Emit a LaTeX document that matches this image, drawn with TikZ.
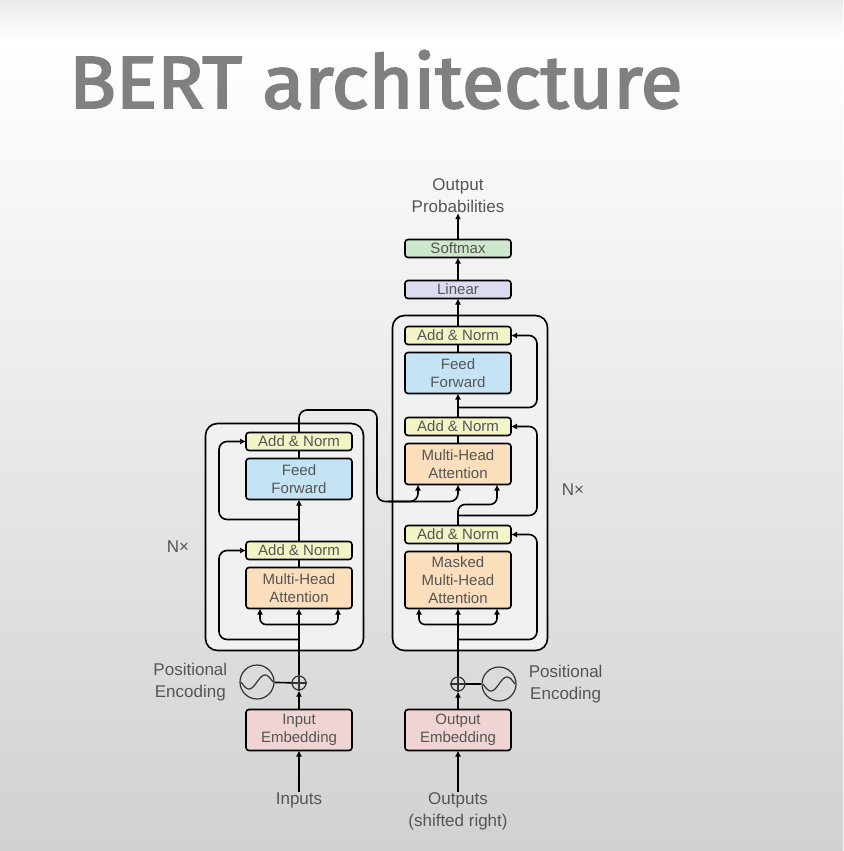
\documentclass[tikz,border=0pt]{standalone}
\usepackage{fontspec}
\setmainfont{Liberation Sans}
\newfontfamily\titlefont{Fira Sans}[FakeBold=2.6]
\usetikzlibrary{positioning}
\usetikzlibrary{calc}
\usetikzlibrary{arrows.meta}
\definecolor{mygray}{HTML}{555555}
\definecolor{titlegray}{HTML}{808080}
\definecolor{normfill}{HTML}{F4F5C6}
\definecolor{fffill}{HTML}{C4E4F6}
\definecolor{attnfill}{HTML}{FBDFBD}
\definecolor{embfill}{HTML}{F0D3D3}
\definecolor{linfill}{HTML}{DCDCF0}
\definecolor{smfill}{HTML}{CDE8CB}
\definecolor{stackfill}{HTML}{F1F1F1}
\tikzset{node distance=7pt, every text node part/.style={align=center}}
\tikzstyle{block} = [draw=black, line width=1.6pt, rounded corners=3pt, minimum width=106pt, inner sep=0pt, outer sep=0pt, text=mygray, font={\fontsize{15}{18}\selectfont}]
\tikzstyle{addnorm} = [block, fill=normfill, minimum height=18pt]
\tikzstyle{ffwd} = [block, fill=fffill, minimum height=41pt]
\tikzstyle{attn} = [block, fill=attnfill, minimum height=41pt]
\tikzstyle{embed} = [block, fill=embfill, minimum height=41pt]
\tikzstyle{stack} = [draw=black, line width=1.6pt, rounded corners=12pt, fill=stackfill]
\tikzstyle{lbl} = [inner sep=0pt, text=mygray, font={\fontsize{17}{22}\selectfont}]
\tikzstyle{plus} = [circle, draw=black!80, line width=1.2pt, minimum size=14pt, inner sep=0pt]
\tikzstyle{sine} = [circle, draw=black!80, line width=1.2pt, minimum size=34pt, inner sep=0pt]
\tikzstyle{wire} = [draw, line width=1.6pt, rounded corners=8pt]
\tikzstyle{ln} = [wire, -{Latex[length=6pt,width=6pt]}]

\begin{document}
\begin{tikzpicture}[x=1pt, y=-1pt]
  \useasboundingbox (0,0) rectangle (843,851);
  % background
  \shade[top color=black!8, bottom color=white] (0,0) rectangle (843,40);
  \shade[top color=white, middle color=black!3, bottom color=black!18] (0,40) rectangle (843,851);
  \node[anchor=base west, inner sep=0pt, text=titlegray, font={\titlefont\fontsize{74}{80}\selectfont}] (title) at (69,108) {\scalebox{1.04}[1]{BERT architecture}};

  % stacks
  \node[stack, minimum width=158pt, minimum height=227pt] (encStack) at (284.5,537) {};
  \node[stack, minimum width=155pt, minimum height=335pt] (decStack) at (470,483) {};

  % encoder
  \node[attn] (encMHA) at (299,588) {Multi-Head\\Attention};
  \node[addnorm, above=8pt of encMHA] (encAN1) {Add \& Norm};
  \node[ffwd, above=42pt of encAN1] (encFF) {Feed\\Forward};
  \node[addnorm, above=8pt of encFF] (encAN2) {Add \& Norm};
  \node[embed] (inEmb) at (299,730) {Input\\Embedding};
  \node[plus] (encPlus) at (299,683) {};
  \node[sine] (encSine) at (257,682) {};
  \node[lbl, align=left, left=12pt of encSine] (encPE) {Positional\\Encoding};
  \node[lbl] (inputs) at (299,800) {Inputs};
  \node[lbl] (encN) at (178,547) {N×};

  % decoder
  \node[attn, minimum height=57pt] (decMMHA) at (458,580) {Masked\\Multi-Head\\Attention};
  \node[addnorm, above=8pt of decMMHA] (decAN1) {Add \& Norm};
  \node[attn, above=41pt of decAN1] (decMHA) {Multi-Head\\Attention};
  \node[addnorm, above=8pt of decMHA] (decAN2) {Add \& Norm};
  \node[ffwd, above=24pt of decAN2] (decFF) {Feed\\Forward};
  \node[addnorm, above=8pt of decFF] (decAN3) {Add \& Norm};
  \node[block, fill=linfill, minimum height=18pt, above=28pt of decAN3] (linear) {Linear};
  \node[block, fill=smfill, minimum height=18pt, above=23pt of linear] (softmax) {Softmax};
  \node[lbl] (outProb) at (458,196) {Output\\Probabilities};
  \node[embed] (outEmb) at (458,730) {Output\\Embedding};
  \node[plus] (decPlus) at (458,684) {};
  \node[sine] (decSine) at (499,684) {};
  \node[lbl, align=left, right=12pt of decSine] (decPE) {Positional\\Encoding};
  \node[lbl] (outputs) at (458,811) {Outputs\\(shifted right)};
  \node[lbl] (decN) at (573,490) {N×};

  \foreach \p in {encPlus, decPlus}
    \draw[line width=1.2pt, black!80] (\p.north) -- (\p.south) (\p.west) -- (\p.east);
  \foreach \s in {encSine, decSine}
    \draw[line width=1.2pt, black!80, shift={(\s)}] plot[domain=-16:16, samples=40, smooth] (\x, {-7*sin(\x*11.25)});

  % encoder wires
  \draw[ln] (inputs) -- (inEmb);
  \draw[ln] (inEmb) -- (encPlus);
  \draw[wire] (encSine) -- (encPlus);
  \draw[ln] (encPlus) -- (encMHA);
  \draw[ln, rounded corners=6pt] ($(encMHA.south)+(0,16)$) -| ($(encMHA.south)+(-39,0)$);
  \draw[ln, rounded corners=6pt] ($(encMHA.south)+(0,16)$) -| ($(encMHA.south)+(39,0)$);
  \draw[ln] ($(encMHA.south)+(0,31)$) -| ($(encAN1.west)+(-27,0)$) -- (encAN1.west);
  \draw[wire] (encMHA) -- (encAN1);
  \draw[ln] (encAN1) -- (encFF);
  \draw[ln] ($(encFF.south)+(0,20)$) -| ($(encAN2.west)+(-27,0)$) -- (encAN2.west);
  \draw[wire] (encFF) -- (encAN2);
  \draw[ln] (encAN2.north) |- (377,410) |- ($(decMHA.south)+(0,17)$) -- (decMHA.south);
  \draw[ln] ($(decMHA.south)+(-70,17)$) -| ($(decMHA.south)+(-40,0)$);

  % decoder wires
  \draw[ln] (outputs) -- (outEmb);
  \draw[ln] (outEmb) -- (decPlus);
  \draw[wire] (decSine) -- (decPlus);
  \draw[ln] (decPlus) -- (decMMHA);
  \draw[ln, rounded corners=6pt] ($(decMMHA.south)+(0,16)$) -| ($(decMMHA.south)+(-39,0)$);
  \draw[ln, rounded corners=6pt] ($(decMMHA.south)+(0,16)$) -| ($(decMMHA.south)+(39,0)$);
  \draw[ln] ($(decMMHA.south)+(0,31)$) -| ($(decAN1.east)+(26,0)$) -- (decAN1.east);
  \draw[wire] (decMMHA) -- (decAN1);
  \draw[ln, rounded corners=7pt] (decAN1.north) |- ($(decMHA.south)+(39,20)$) -- ($(decMHA.south)+(39,0)$);
  \draw[ln] ($(decAN1.north)+(0,-10)$) -| ($(decAN2.east)+(26,0)$) -- (decAN2.east);
  \draw[wire] (decMHA) -- (decAN2);
  \draw[ln] (decAN2) -- (decFF);
  \draw[ln] ($(decFF.south)+(0,14)$) -| ($(decAN3.east)+(26,0)$) -- (decAN3.east);
  \draw[wire] (decFF) -- (decAN3);
  \draw[ln] (decAN3) -- (linear);
  \draw[ln] (linear) -- (softmax);
  \draw[ln] (softmax) -- (outProb);
\end{tikzpicture}
\end{document}
